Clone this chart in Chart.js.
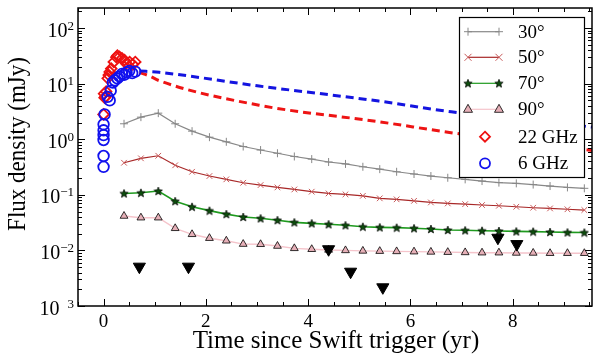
<!DOCTYPE html>
<html>
<head>
<meta charset="utf-8">
<script src="https://cdn.jsdelivr.net/npm/chart.js@4.4.1/dist/chart.umd.min.js"></script>
<style>
html, body { margin: 0; padding: 0; background: #fff; }
#wrap { width: 600px; height: 359px; }
</style>
</head>
<body>
<div id="wrap"><canvas id="myChart"></canvas></div>
<script>
// model light curves, one point every third of a year
var modelTimes = [0.4, 0.73, 1.07, 1.4, 1.73, 2.07, 2.4, 2.73, 3.07, 3.4, 3.73, 4.07, 4.4, 4.73,
                  5.07, 5.4, 5.73, 6.07, 6.4, 6.73, 7.07, 7.4, 7.73, 8.07, 8.4, 8.73, 9.07, 9.4];
var flux30 = [1.9, 2.5, 2.95, 1.9, 1.4, 1.09, 0.9, 0.74, 0.64, 0.56, 0.49, 0.44, 0.39, 0.36,
              0.32, 0.29, 0.26, 0.237, 0.218, 0.203, 0.19, 0.177, 0.166, 0.161, 0.153, 0.144, 0.136, 0.131];
var flux50 = [0.378, 0.454, 0.505, 0.34, 0.26, 0.218, 0.19, 0.165, 0.15, 0.136, 0.125, 0.114, 0.106, 0.102,
              0.096, 0.0865, 0.083, 0.078, 0.073, 0.07, 0.068, 0.0656, 0.0637, 0.061, 0.0586, 0.057, 0.055, 0.0533];
var flux70 = [0.106, 0.109, 0.117, 0.077, 0.061, 0.052, 0.045, 0.04, 0.0378, 0.035, 0.032, 0.0307, 0.0295, 0.0283,
              0.0267, 0.026, 0.0257, 0.025, 0.0243, 0.0233, 0.023, 0.0226, 0.0224, 0.022, 0.0218, 0.0214, 0.0211, 0.021];
var flux90 = [0.0416, 0.0388, 0.0388, 0.025, 0.0195, 0.0166, 0.0149, 0.013, 0.0129, 0.012, 0.0109, 0.0105, 0.0102, 0.01,
              0.0098, 0.0097, 0.0096, 0.0095, 0.0094, 0.0093, 0.0092, 0.0091, 0.0091, 0.009, 0.009, 0.0089, 0.0089, 0.0089];

// radio detections
var times22 = [0.0, 0.01, 0.02, 0.04, 0.05, 0.08, 0.1, 0.12, 0.15, 0.2, 0.25, 0.27, 0.31, 0.36, 0.41, 0.44, 0.51, 0.57, 0.62];
var flux22  = [2.8, 6.6, 5.6, 5.8, 7.2, 12.5, 14.3, 16.3, 18.7, 24.6, 30, 32, 30.5, 28.5, 26.5, 23.1, 24.6, 22.3, 24.6];
var times6 = [0.0, 0.0, 0.0, 0.0, 0.0, 0.0, 0.02, 0.08, 0.12, 0.14, 0.18, 0.22, 0.27, 0.31, 0.36, 0.41, 0.45, 0.5, 0.56, 0.62];
var flux6  = [0.32, 0.5, 0.97, 1.19, 1.45, 1.86, 2.8, 5.8, 5.0, 7.5, 10.5, 11.5, 12.5, 13.5, 15, 14.5, 16, 17, 15.5, 16.5];

// dashed fits
var fitTimes22 = [0.7, 0.9, 1.09, 3.04, 5.38, 6.88, 9.55];
var fitFlux22  = [16, 13.7, 11.3, 4.1, 2.07, 1.28, 0.63];
var fitTimes6 = [0.7, 1.09, 3.04, 5.38, 6.8, 9.55];
var fitFlux6  = [17, 16, 9.06, 4.87, 3.12, 1.66];

// upper limits
var limitTimes = [0.7, 1.66, 4.4, 4.83, 5.46, 7.71, 8.08];
var limitFlux  = [0.0051, 0.0051, 0.0105, 0.00414, 0.00217, 0.0169, 0.013];

var xTickLabels = [0, 2, 4, 6, 8];
var yTickExps = [2, 1, 0, -1, -2, -3];
var legendLabels = ['30\u00b0', '50\u00b0', '70\u00b0', '90\u00b0', '22 GHz', '6 GHz'];

function pts(xs, ys) {
  var out = [];
  for (var i = 0; i < xs.length; i++) out.push({x: xs[i], y: ys[i]});
  return out;
}

// filled star marker
var star = document.createElement('canvas');
star.width = 10; star.height = 10;
(function () {
  var c = star.getContext('2d');
  c.beginPath();
  for (var i = 0; i < 10; i++) {
    var r = i % 2 === 0 ? 4.4 : 1.9;
    var a = -Math.PI / 2 + i * Math.PI / 5;
    c.lineTo(5 + r * Math.cos(a), 5.4 + r * Math.sin(a));
  }
  c.closePath();
  c.fillStyle = '#0d4d0d';
  c.fill();
  c.lineWidth = 0.7;
  c.strokeStyle = '#000';
  c.stroke();
})();

var serif = '"Liberation Serif", "DejaVu Serif", serif';

function marker(ctx, kind, x, y) {
  ctx.save();
  ctx.beginPath();
  if (kind === 0) {
    ctx.strokeStyle = '#888'; ctx.lineWidth = 1;
    ctx.moveTo(x - 4, y); ctx.lineTo(x + 4, y); ctx.moveTo(x, y - 4); ctx.lineTo(x, y + 4); ctx.stroke();
  } else if (kind === 1) {
    ctx.strokeStyle = '#c85a5a'; ctx.lineWidth = 1;
    ctx.moveTo(x - 3.5, y - 3.5); ctx.lineTo(x + 3.5, y + 3.5); ctx.moveTo(x + 3.5, y - 3.5); ctx.lineTo(x - 3.5, y + 3.5); ctx.stroke();
  } else if (kind === 2) {
    ctx.drawImage(star, x - 5, y - 5);
  } else if (kind === 3) {
    ctx.moveTo(x, y - 5); ctx.lineTo(x + 4.5, y + 3); ctx.lineTo(x - 4.5, y + 3); ctx.closePath();
    ctx.fillStyle = '#e6b0b8'; ctx.fill(); ctx.strokeStyle = '#000'; ctx.lineWidth = 0.8; ctx.stroke();
  } else if (kind === 4) {
    ctx.moveTo(x, y - 5); ctx.lineTo(x + 5, y); ctx.lineTo(x, y + 5); ctx.lineTo(x - 5, y); ctx.closePath();
    ctx.strokeStyle = '#ee1111'; ctx.lineWidth = 1.8; ctx.stroke();
  } else {
    ctx.arc(x, y, 5, 0, Math.PI * 2);
    ctx.strokeStyle = '#1111ee'; ctx.lineWidth = 1.8; ctx.stroke();
  }
  ctx.restore();
}

var lineColors = ['#888888', '#a82828', '#1f9a1f', '#f5c4cb'];

var frame = {
  id: 'frame',
  afterDraw: function (chart) {
    var ctx = chart.ctx, a = chart.chartArea;
    var xs = chart.scales.x, ys = chart.scales.y;
    ctx.save();
    ctx.strokeStyle = '#000';
    ctx.lineWidth = 1;
    ctx.beginPath();
    for (var i = -1; i <= 19; i++) {
      var px = Math.round(xs.getPixelForValue(i / 2)) + 0.5;
      var len = i % 4 === 0 ? 7 : 4;
      ctx.moveTo(px, a.bottom); ctx.lineTo(px, a.bottom - len);
      ctx.moveTo(px, a.top); ctx.lineTo(px, a.top + len);
    }
    for (var e = -3; e <= 2; e++) {
      for (var m = 1; m <= 9; m++) {
        var v = m * Math.pow(10, e);
        if (v > ys.max) break;
        var py = Math.round(ys.getPixelForValue(v)) + 0.5;
        var l = m === 1 ? 7 : 4;
        ctx.moveTo(a.left, py); ctx.lineTo(a.left + l, py);
        ctx.moveTo(a.right, py); ctx.lineTo(a.right - l, py);
      }
    }
    ctx.stroke();
    ctx.lineWidth = 1.5;
    ctx.strokeRect(a.left, a.top, a.right - a.left, a.bottom - a.top);

    // tick labels
    ctx.fillStyle = '#000';
    ctx.font = '19px ' + serif;
    ctx.textAlign = 'center';
    ctx.textBaseline = 'alphabetic';
    xTickLabels.forEach(function (t) {
      ctx.fillText(String(t), xs.getPixelForValue(t), 327);
    });
    yTickExps.forEach(function (e) {
      var py = ys.getPixelForValue(Math.pow(10, e));
      var ex = e < -2 ? '3' : String(e).replace('-', '\u2212');
      ctx.font = '13px ' + serif;
      var w2 = ctx.measureText(ex).width;
      ctx.textAlign = 'right';
      ctx.fillText(ex, 74, py + 1.5);
      ctx.font = '20px ' + serif;
      ctx.fillText('10', 74 - w2 - (e < -2 ? 8 : 0), py + 8.5);
    });

    // axis titles
    ctx.font = '25px ' + serif;
    ctx.textAlign = 'center';
    ctx.fillText('Time since Swift trigger (yr)', 336, 348);
    ctx.save();
    ctx.translate(25, 144);
    ctx.rotate(-Math.PI / 2);
    ctx.scale(0.92, 1);
    ctx.fillText('Flux density (mJy)', 0, 0);
    ctx.restore();

    // legend
    ctx.fillStyle = '#fff';
    ctx.fillRect(459, 17, 125, 160);
    ctx.lineWidth = 1.2;
    ctx.strokeRect(459.5, 17.5, 125, 160);
    var rows = [31.7, 57.3, 83.3, 109.3, 136.7, 163.3];
    ctx.font = '19px ' + serif;
    ctx.textAlign = 'left';
    ctx.textBaseline = 'middle';
    legendLabels.forEach(function (lab, k) {
      var y = rows[k];
      if (k < 4) {
        ctx.beginPath();
        ctx.strokeStyle = lineColors[k];
        ctx.lineWidth = 1.2;
        ctx.moveTo(468, y); ctx.lineTo(499, y); ctx.stroke();
        marker(ctx, k, 468, y);
        marker(ctx, k, 499, y);
      } else {
        marker(ctx, k, 485, y);
      }
      ctx.fillStyle = '#000';
      ctx.fillText(lab, 518, y + 1);
    });
    ctx.restore();
  }
};

var ctx = document.getElementById('myChart');
var myChart = new Chart(ctx, {
  type: 'scatter',
  data: {
    datasets: [
      {
        label: '6 GHz', data: pts(times6, flux6),
        pointStyle: 'circle', pointRadius: 5.3, pointBorderColor: '#1111ee',
        pointBackgroundColor: 'rgba(0,0,0,0)', pointBorderWidth: 1.8, showLine: false
      },
      {
        label: '22 GHz', data: pts(times22, flux22),
        pointStyle: 'rectRot', pointRadius: 5.3, pointBorderColor: '#ee1111',
        pointBackgroundColor: 'rgba(0,0,0,0)', pointBorderWidth: 1.8, showLine: false
      },
      {
        label: 'limits', data: pts(limitTimes, limitFlux),
        pointStyle: 'triangle', rotation: 180, pointRadius: 7,
        pointBackgroundColor: '#000', pointBorderColor: '#000', showLine: false
      },
      {
        label: '30', data: pts(modelTimes, flux30), showLine: true,
        borderColor: lineColors[0], borderWidth: 1.2,
        pointStyle: 'cross', pointRadius: 4, pointBorderColor: '#888', pointBorderWidth: 1
      },
      {
        label: '50', data: pts(modelTimes, flux50), showLine: true,
        borderColor: lineColors[1], borderWidth: 1.2,
        pointStyle: 'crossRot', pointRadius: 4, pointBorderColor: '#c85a5a', pointBorderWidth: 1
      },
      {
        label: '70', data: pts(modelTimes, flux70), showLine: true,
        borderColor: lineColors[2], borderWidth: 1.6,
        pointStyle: star, pointRadius: 5
      },
      {
        label: '90', data: pts(modelTimes, flux90), showLine: true,
        borderColor: lineColors[3], borderWidth: 1.4,
        pointStyle: 'triangle', pointRadius: 4.5, pointBackgroundColor: '#e6b0b8',
        pointBorderColor: '#000', pointBorderWidth: 0.8
      },
      {
        label: 'fit 6', data: pts(fitTimes6, fitFlux6), showLine: true,
        borderColor: '#1414e0', borderWidth: 3, borderDash: [8, 5], pointRadius: 0,
        cubicInterpolationMode: 'monotone'
      },
      {
        label: 'fit 22', data: pts(fitTimes22, fitFlux22), showLine: true,
        borderColor: '#ee1414', borderWidth: 3, borderDash: [8, 5], pointRadius: 0,
        cubicInterpolationMode: 'monotone'
      }
    ]
  },
  options: {
    responsive: true,
    maintainAspectRatio: false,
    animation: false,
    layout: { padding: { left: 0, right: 6, top: 8, bottom: 0 } },
    plugins: { legend: { display: false }, tooltip: { enabled: false } },
    scales: {
      x: {
        type: 'linear', min: -0.5, max: 9.55,
        grid: { display: false }, border: { display: false },
        ticks: { display: false },
        afterFit: function (s) { s.height = 53; }
      },
      y: {
        type: 'logarithmic', min: 0.001, max: 230,
        grid: { display: false }, border: { display: false },
        ticks: { display: false },
        afterFit: function (s) { s.width = 78; }
      }
    }
  },
  plugins: [frame]
});
</script>
</body>
</html>
